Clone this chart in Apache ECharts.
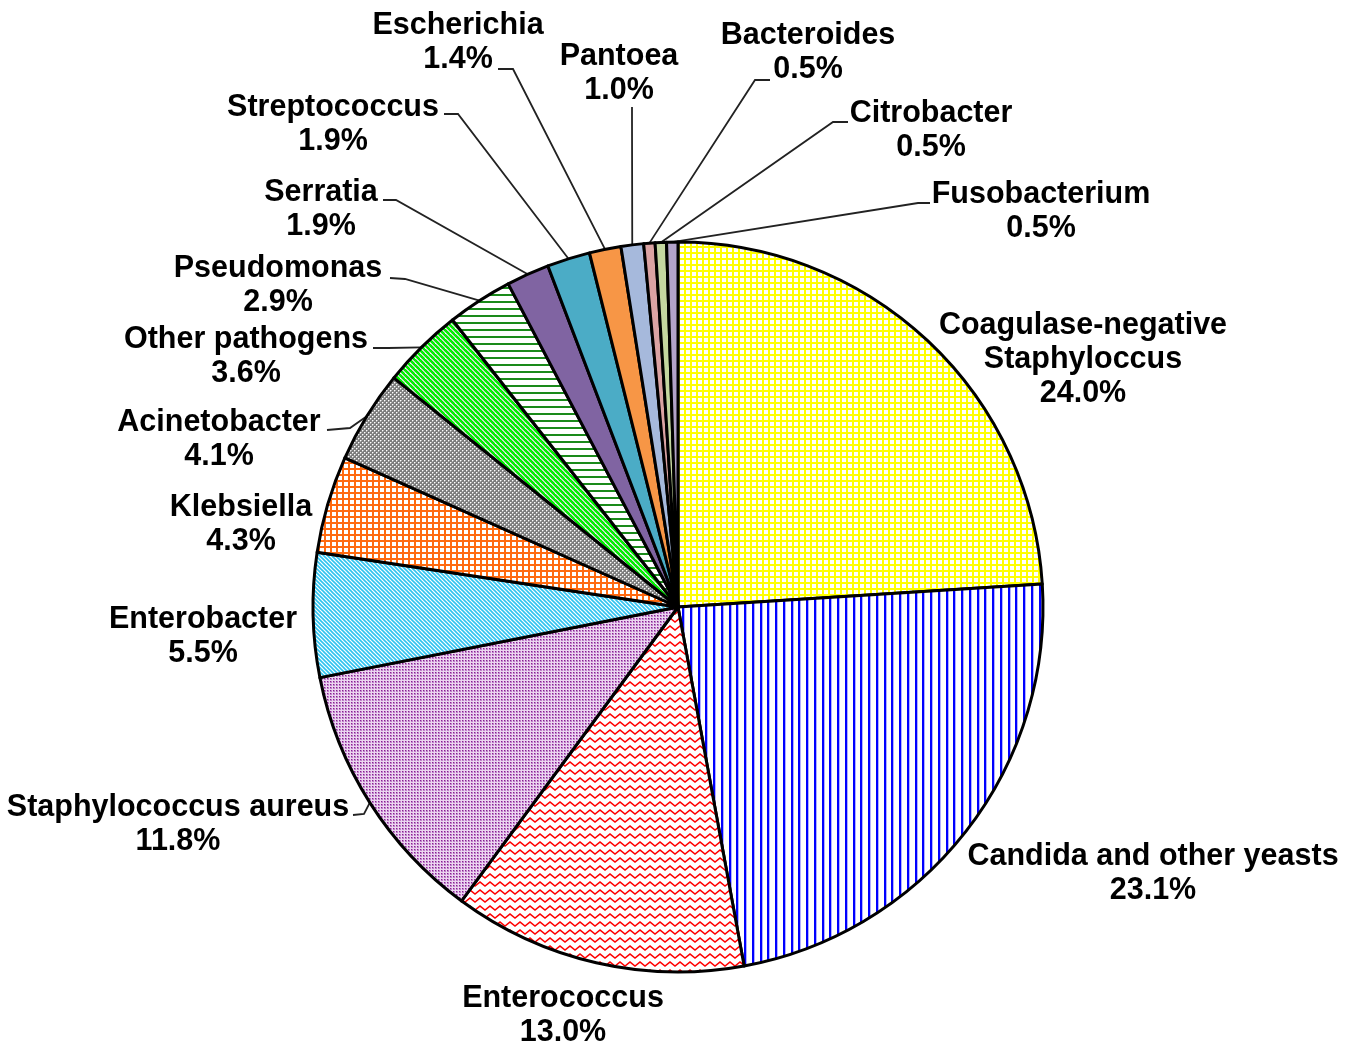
<!DOCTYPE html>
<html>
<head>
<meta charset="utf-8">
<title>Pathogen distribution</title>
<script src="https://cdn.jsdelivr.net/npm/echarts@6/dist/echarts.min.js"></script>
<style>
  html, body { margin: 0; padding: 0; background: #fff; }
  #chart { width: 1356px; height: 1047px; }
</style>
</head>
<body>
<div id="chart"></div>
<script>
  // data, clockwise from 12 o'clock
  const pathogens = [
    'Coagulase-negative\nStaphyloccus', 'Candida and other yeasts', 'Enterococcus',
    'Staphylococcus aureus', 'Enterobacter', 'Klebsiella', 'Acinetobacter',
    'Other pathogens', 'Pseudomonas', 'Serratia', 'Streptococcus', 'Escherichia',
    'Pantoea', 'Bacteroides', 'Citrobacter', 'Fusobacterium'
  ];
  const shares = [24.0, 23.1, 13.0, 11.8, 5.5, 4.3, 4.1, 3.6, 2.9, 1.9, 1.9, 1.4, 1.0, 0.5, 0.5, 0.5];

  // label layout (text block centres and leader line ends)
  const labelPos = [
    [1083, 360], [1153, 874], [563, 1016], [178, 825], [203, 637], [241, 525],
    [219, 440], [246, 357], [278, 286], [321, 210], [333, 125], [458, 43],
    [619, 74], [808, 53], [931, 131], [1041, 212]
  ];
  const leaderAttach = [
    null, null, null, [353, 815], null, null, [327, 430], [373, 348],
    [390, 278], [383, 200], [444, 114], [498, 69], [632, 107], [770, 80],
    [848, 122], [930, 203]
  ];
  const leaderBend = [
    null, null, null, [364, 814], null, null, [350, 428], [388, 348],
    [405, 279], [396, 200], [458, 114], [513, 69], [632, 120], [755, 80],
    [833, 122], [918, 203]
  ];

  function tile(w, h, draw) {
    const c = document.createElement('canvas');
    c.width = w;
    c.height = h;
    const ctx = c.getContext('2d');
    ctx.fillStyle = '#fff';
    ctx.fillRect(0, 0, w, h);
    draw(ctx, w, h);
    return { image: c, repeat: 'repeat' };
  }

  function grid(color, size, lw) {
    return tile(size, size, function (ctx) {
      ctx.fillStyle = color;
      ctx.fillRect(0, 0, size, lw);
      ctx.fillRect(0, 0, lw, size);
    });
  }

  function diag(color, edge, p, lw) {
    return tile(p, p, function (ctx) {
      [-p, 0, p].forEach(function (s) {
        ctx.beginPath();
        ctx.moveTo(s - 1, -1);
        ctx.lineTo(s + p + 1, p + 1);
        if (edge) {
          ctx.strokeStyle = edge;
          ctx.lineWidth = lw + 0.8;
          ctx.stroke();
        }
        ctx.strokeStyle = color;
        ctx.lineWidth = lw;
        ctx.stroke();
      });
    });
  }

  const fills = [
    grid('#ffff00', 6, 2),
    tile(31, 4, function (ctx) {
      [0, 8, 16, 23].forEach(function (x) {
        ctx.fillStyle = '#0000ff';
        ctx.fillRect(x, 0, 2, 4);
        ctx.fillStyle = '#b0b0ff';
        ctx.fillRect(x + 2, 0, 1, 4);
      });
    }),
    tile(10, 8, function (ctx) {
      ctx.strokeStyle = '#ff0000';
      ctx.lineWidth = 1.5;
      ctx.beginPath();
      ctx.moveTo(-5, 6);
      ctx.lineTo(0, 2);
      ctx.lineTo(5, 6);
      ctx.lineTo(10, 2);
      ctx.lineTo(15, 6);
      ctx.stroke();
    }),
    tile(3, 3, function (ctx) {
      ctx.fillStyle = '#ecd6f0';
      ctx.fillRect(0, 0, 3, 3);
      ctx.fillStyle = '#bf80ca';
      ctx.fillRect(0, 0, 2, 2);
      ctx.fillStyle = '#86208f';
      ctx.fillRect(0, 0, 1, 1);
    }),
    diag('#2fc3f0', null, 4, 1.6),
    grid('#ff6a10', 6, 2),
    tile(4, 4, function (ctx) {
      ctx.fillStyle = '#7d7d7d';
      ctx.fillRect(0, 0, 4, 4);
      ctx.fillStyle = '#ffffff';
      ctx.fillRect(0, 0, 1, 1);
      ctx.fillRect(2, 2, 1, 1);
      ctx.fillStyle = '#b5b5b5';
      ctx.fillRect(1, 0, 1, 1);
      ctx.fillRect(0, 1, 1, 1);
      ctx.fillRect(3, 2, 1, 1);
      ctx.fillRect(2, 3, 1, 1);
    }),
    diag('#00ff00', '#00a000', 5, 1.6),
    tile(4, 7, function (ctx) {
      ctx.fillStyle = '#1a8a1a';
      ctx.fillRect(0, 0, 4, 2);
    }),
    '#8064a2', '#4bacc6', '#f79646', '#a6b9dc', '#dba3a3', '#c4d7a0', '#b3a3c9'
  ];

  const chart = echarts.init(document.getElementById('chart'));
  window.addEventListener('resize', function () {
    chart.resize();
  });

  const option = {
    animation: false,
    backgroundColor: '#fff',
    series: [
      {
        type: 'pie',
        center: [678, 607],
        radius: 365,
        startAngle: 90,
        clockwise: true,
        avoidLabelOverlap: false,
        emphasis: { disabled: true },
        itemStyle: {
          borderColor: '#000',
          borderWidth: 3
        },
        label: {
          show: true,
          position: 'outside',
          color: '#000',
          fontFamily: 'Liberation Sans, Arial, sans-serif',
          fontWeight: 'bold',
          fontSize: 30.5,
          lineHeight: 34,
          formatter: function (p) {
            return p.name + '\n' + p.value.toFixed(1) + '%';
          }
        },
        labelLine: {
          show: true,
          length: 10,
          length2: 10,
          lineStyle: { color: '#222', width: 1.8 }
        },
        labelLayout: function (p) {
          const i = p.dataIndex;
          const out = {
            x: labelPos[i][0],
            y: labelPos[i][1],
            align: 'center',
            verticalAlign: 'middle'
          };
          if (leaderAttach[i] && p.labelLinePoints) {
            out.labelLinePoints = [p.labelLinePoints[0], leaderBend[i], leaderAttach[i]];
          }
          return out;
        },
        data: pathogens.map(function (name, i) {
          return {
            name: name,
            value: shares[i],
            itemStyle: { color: fills[i] },
            labelLine: { show: !!leaderAttach[i] }
          };
        })
      }
    ]
  };

  chart.setOption(option);
</script>
</body>
</html>
